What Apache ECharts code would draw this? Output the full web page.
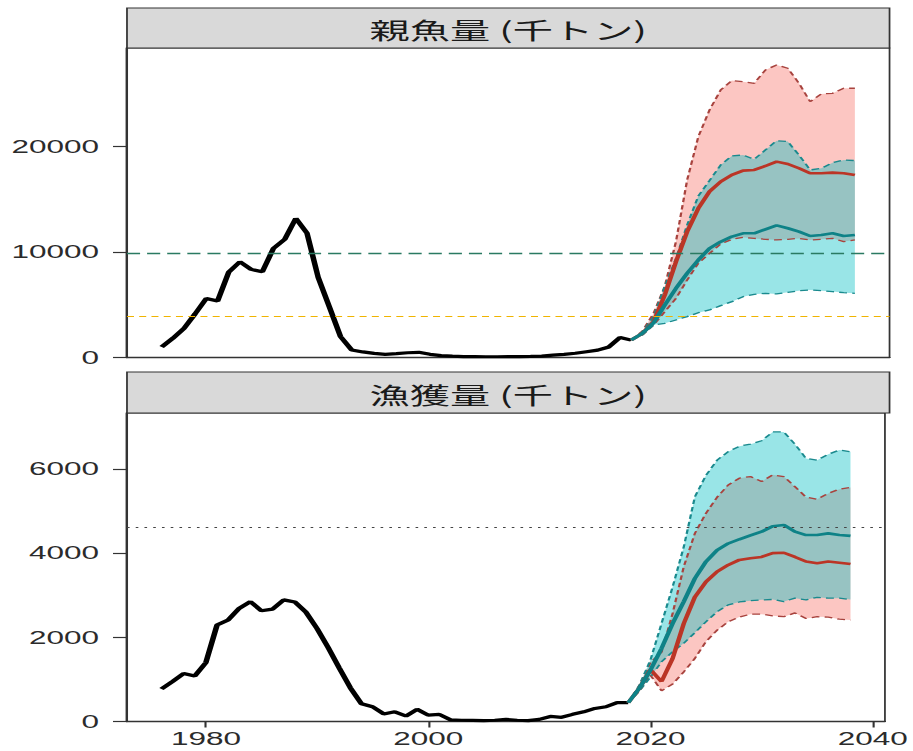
<!DOCTYPE html>
<html>
<head>
<meta charset="utf-8">
<script src="https://cdn.jsdelivr.net/npm/echarts@6/dist/echarts.min.js"></script>
<style>
html,body{margin:0;padding:0;background:#fff;}
#wrap{width:913px;height:751px;overflow:hidden;position:relative;}
#chart{width:522px;height:751px;transform:scaleX(1.749);transform-origin:0 0;}
</style>
</head>
<body>
<div id="wrap"><div id="chart"></div></div>
<script>
// ---------- data ----------
const panelTitles = ['親魚量 (千トン)', '漁獲量 (千トン)'];
const xTicks = [1980, 2000, 2020, 2040];
const yTicksSSB = [0, 10000, 20000];
const yTicksCatch = [0, 2000, 4000, 6000];

const histYears = [1976,1977,1978,1979,1980,1981,1982,1983,1984,1985,1986,1987,1988,1989,1990,1991,1992,1993,1994,1995,1996,1997,1998,1999,2000,2001,2002,2003,2004,2005,2006,2007,2008,2009,2010,2011,2012,2013,2014,2015,2016,2017,2018];
const ssbHist = [1000,1820,2770,4150,5600,5350,8100,9080,8360,8130,10350,11200,13200,11800,7600,4800,1980,710,530,390,300,360,450,490,300,180,130,90,80,70,70,80,90,100,130,220,300,400,550,700,1000,1900,1650];
const catchHist = [770,950,1140,1080,1400,2290,2410,2690,2850,2630,2670,2890,2840,2600,2210,1760,1270,800,420,350,180,230,130,290,150,170,40,30,25,20,30,50,30,20,50,120,100,170,230,310,350,450,450];

const projYears = [2018,2019,2020,2021,2022,2023,2024,2025,2026,2027,2028,2029,2030,2031,2032,2033,2034,2035,2036,2037,2038];
// SSB projections
const ssbTealMed = [1660,2290,3300,4980,6560,7990,9250,10360,10990,11470,11780,11780,12160,12540,12260,11940,11530,11620,11780,11530,11620];
const ssbTealLow = [1660,2150,3100,3240,3560,3880,4250,4510,4920,5300,5770,5990,6090,6030,6180,6340,6400,6340,6250,6150,6090];
const ssbTealUp  = [1660,2450,3880,6720,9410,12570,15320,16780,18270,19120,19210,18800,19690,20570,20480,19210,17790,17950,18480,18740,18680];
const ssbRedMed  = [1660,2290,3400,5930,9090,11940,14150,15740,16680,17320,17730,17790,18170,18580,18360,17950,17480,17480,17540,17480,17320];
const ssbRedLow  = [1660,2150,3080,4350,5610,7350,8940,9880,10770,11210,11400,11300,11210,11150,11210,11300,11150,11210,11300,11000,11150];
const ssbRedUp   = [1660,2500,4200,6760,11000,16840,20950,23480,25380,26270,26170,26010,27280,27750,27440,26010,24270,25000,25060,25540,25540];
// Catch projections
const catchTealMed = [447,790,1220,1740,2330,2850,3400,3800,4070,4230,4330,4420,4510,4640,4670,4510,4430,4430,4470,4430,4410];
const catchTealLow = [447,730,1050,1420,1660,1860,2110,2370,2610,2770,2840,2870,2890,2900,2850,2930,2890,2950,2930,2930,2900];
const catchTealUp  = [447,860,1460,2330,3200,4150,5340,5850,6210,6410,6540,6590,6670,6880,6880,6590,6250,6210,6350,6450,6410];
const catchRedMed  = [447,790,1230,950,1500,2330,2960,3320,3560,3720,3840,3880,3910,4000,4010,3910,3800,3760,3800,3770,3740];
const catchRedLow  = [447,720,1100,730,890,1180,1500,1900,2170,2370,2480,2550,2550,2510,2490,2580,2450,2490,2480,2430,2410];
const catchRedUp   = [447,850,1400,1650,2570,3680,4470,4950,5330,5620,5780,5820,5700,5860,5820,5580,5330,5280,5420,5520,5560];

const ssbRefLines = [9900, 3870];
const catchRefLines = [4610];

// ---------- styles ----------
const RED = '#bb3526', TEAL = '#0e8287';
const RED_EDGE = '#a8433e', TEAL_EDGE = '#1a8a8e';
const PINK_FILL = 'rgba(248,118,109,0.42)', CYAN_FILL = 'rgba(0,191,196,0.40)';
const numFont = '"Liberation Sans", Arial, sans-serif';

function pairs(xs, ys) { return xs.map((x, i) => [x, ys[i]]); }

function bandFill(idx, low, up, fill) {
  return { type: 'custom', xAxisIndex: idx, yAxisIndex: idx, silent: true,
    data: projYears.map((x, i) => [x, low[i], up[i]]),
    encode: { x: 0, y: [1, 2] },
    renderItem: function (params, api) {
      if (params.dataIndex !== 0) return null;
      const pts = [];
      for (let i = 0; i < projYears.length; i++) pts.push(api.coord([projYears[i], up[i]]));
      for (let i = projYears.length - 1; i >= 0; i--) pts.push(api.coord([projYears[i], low[i]]));
      return { type: 'polygon', shape: { points: pts }, style: { fill: fill } };
    } };
}
function edge(idx, ys, color) {
  return { type: 'line', xAxisIndex: idx, yAxisIndex: idx, symbol: 'none', silent: true,
    data: pairs(projYears, ys), lineStyle: { color: color, width: 1.3, type: [4.5, 3] } };
}
function band(idx, low, up, edgeColor, fill) {
  return [bandFill(idx, low, up, fill), edge(idx, low, edgeColor), edge(idx, up, edgeColor)];
}
function solid(idx, xs, ys, color, width) {
  return { type: 'line', xAxisIndex: idx, yAxisIndex: idx, symbol: 'none', silent: true,
    data: pairs(xs, ys), lineStyle: { color: color, width: width } };
}
function refLines(idx, vals, styles) {
  return { type: 'line', xAxisIndex: idx, yAxisIndex: idx, data: [], symbol: 'none', silent: true,
    markLine: { symbol: 'none', silent: true, label: { show: false },
      data: vals.map((v, i) => ({ yAxis: v, lineStyle: styles[i] })) } };
}

const GL = 72.6, GW = 436;
const grids = [
  { left: GL, top: 48, width: GW, height: 309.5 },
  { left: GL, top: 413, width: GW, height: 308.5 }
];
grids.forEach(g => { g.show = true; g.borderColor = '#333'; g.borderWidth = 1; g.backgroundColor = 'transparent'; });

const plain = v => String(v);
function xAxisCfg(idx, showLabels) {
  return { type: 'value', gridIndex: idx, min: 1972.9, max: 2041.1,
    axisLine: { show: true, onZero: false, lineStyle: { color: '#333', width: 1.3 } },
    axisTick: { show: showLabels, length: 6, customValues: xTicks, lineStyle: { color: '#333', width: 1.2 } },
    axisLabel: { show: showLabels, customValues: xTicks, formatter: plain, margin: 8, color: '#2b2b2b', fontSize: 18, fontFamily: numFont },
    splitLine: { show: false } };
}
function yAxisCfg(idx, max, ticks) {
  return { type: 'value', gridIndex: idx, min: 0, max: max,
    axisLine: { show: true, onZero: false, lineStyle: { color: '#333', width: 1.4 } },
    axisTick: { show: true, length: 8, customValues: ticks, lineStyle: { color: '#333', width: 1.2 } },
    axisLabel: { customValues: ticks, formatter: plain, margin: 16, color: '#2b2b2b', fontSize: 18, fontFamily: numFont },
    splitLine: { show: false } };
}

const series = [].concat(
  band(0, ssbRedLow, ssbRedUp, RED_EDGE, PINK_FILL),
  band(0, ssbTealLow, ssbTealUp, TEAL_EDGE, CYAN_FILL),
  [refLines(0, ssbRefLines, [
      { color: '#2a7a62', width: 1.4, type: [7.5, 4] },
      { color: '#f0b400', width: 1.2, type: [4, 3] }]),
   solid(0, histYears, ssbHist, '#000', 3.2),
   solid(0, projYears, ssbRedMed, RED, 2.6),
   solid(0, projYears, ssbTealMed, TEAL, 2.6)],
  band(1, catchRedLow, catchRedUp, RED_EDGE, PINK_FILL),
  band(1, catchTealLow, catchTealUp, TEAL_EDGE, CYAN_FILL),
  [refLines(1, catchRefLines, [{ color: '#444', width: 1.2, type: [1.5, 3.5] }]),
   solid(1, histYears, catchHist, '#000', 3.2),
   solid(1, projYears, catchRedMed, RED, 2.6),
   solid(1, projYears, catchTealMed, TEAL, 2.6)]
);

const strips = [{ top: 8, h: 40 }, { top: 372, h: 41 }];
const graphic = [];
strips.forEach((s, i) => {
  graphic.push({ type: 'rect', silent: true, z: 10,
    shape: { x: GL, y: s.top, width: GW, height: s.h },
    style: { fill: '#d9d9d9', stroke: '#333', lineWidth: 1 } });
  graphic.push({ type: 'text', silent: true, z: 11,
    style: { text: panelTitles[i], x: GL + GW / 2, y: s.top + s.h / 2 + 1,
      textAlign: 'center', textVerticalAlign: 'middle', align: 'center', verticalAlign: 'middle',
      fontSize: 23, fontFamily: '"Noto Sans CJK JP", sans-serif', fill: '#1a1a1a' } });
});

const chart = echarts.init(document.getElementById('chart'), null, { renderer: 'svg' });
chart.setOption({
  animation: false,
  backgroundColor: '#fff',
  grid: grids,
  xAxis: [xAxisCfg(0, false), xAxisCfg(1, true)],
  yAxis: [yAxisCfg(0, 29360, yTicksSSB), yAxisCfg(1, 7330, yTicksCatch)],
  series: series,
  graphic: graphic
});
</script>
</body>
</html>
